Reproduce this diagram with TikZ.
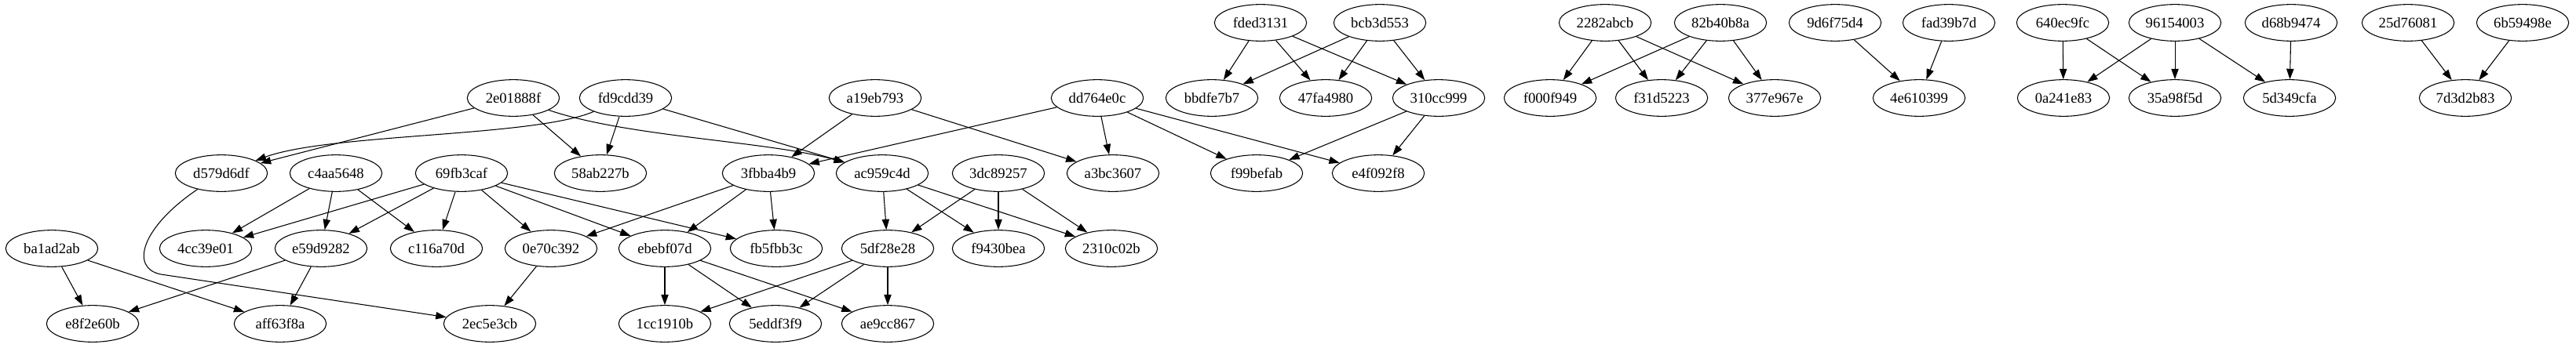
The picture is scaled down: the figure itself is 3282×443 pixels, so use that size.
\documentclass[tikz,border=0pt]{standalone}
\usepackage{fontspec}
\setmainfont{Liberation Serif}
\usetikzlibrary{arrows.meta,shapes.geometric}

\begin{document}
\begin{tikzpicture}[x=0.75pt,y=-0.75pt,{hashnode/.style={ellipse,draw=black,line width=0.8pt,minimum width=88pt,minimum height=35pt,inner sep=0pt,font=\fontsize{14pt}{16pt}\selectfont}},{link/.style={draw=black,line width=0.8pt,-{Triangle[length=10pt,width=7pt]}}}]
	%%page
	\useasboundingbox (0,0) rectangle (3282,443);
	%%rank 0
	\node[hashnode] (nfded3131) at (1606,29) {fded3131};
	\node[hashnode] (nbcb3d553) at (1758,29) {bcb3d553};
	\node[hashnode] (n2282abcb) at (2045,29) {2282abcb};
	\node[hashnode] (n82b40b8a) at (2192,29) {82b40b8a};
	\node[hashnode] (n9d6f75d4) at (2338,29) {9d6f75d4};
	\node[hashnode] (nfad39b7d) at (2483,29) {fad39b7d};
	\node[hashnode] (n640ec9fc) at (2628,29) {640ec9fc};
	\node[hashnode] (n96154003) at (2771,29) {96154003};
	\node[hashnode] (nd68b9474) at (2919,29) {d68b9474};
	\node[hashnode] (n25d76081) at (3068,29) {25d76081};
	\node[hashnode] (n6b59498e) at (3214,29) {6b59498e};
	%%rank 1
	\node[hashnode] (n2e01888f) at (654,125) {2e01888f};
	\node[hashnode] (nfd9cdd39) at (797,125) {fd9cdd39};
	\node[hashnode] (na19eb793) at (1115,125) {a19eb793};
	\node[hashnode] (ndd764e0c) at (1398,125) {dd764e0c};
	\node[hashnode] (nbbdfe7b7) at (1544,125) {bbdfe7b7};
	\node[hashnode] (n47fa4980) at (1689,125) {47fa4980};
	\node[hashnode] (n310cc999) at (1833,125) {310cc999};
	\node[hashnode] (nf000f949) at (1975,125) {f000f949};
	\node[hashnode] (nf31d5223) at (2117,125) {f31d5223};
	\node[hashnode] (n377e967e) at (2261,125) {377e967e};
	\node[hashnode] (n4e610399) at (2445,125) {4e610399};
	\node[hashnode] (n0a241e83) at (2629,125) {0a241e83};
	\node[hashnode] (n35a98f5d) at (2771,125) {35a98f5d};
	\node[hashnode] (n5d349cfa) at (2917,125) {5d349cfa};
	\node[hashnode] (n7d3d2b83) at (3141,125) {7d3d2b83};
	%%rank 2
	\node[hashnode] (nd579d6df) at (282,221) {d579d6df};
	\node[hashnode] (nc4aa5648) at (428,221) {c4aa5648};
	\node[hashnode] (n69fb3caf) at (588,221) {69fb3caf};
	\node[hashnode] (n58ab227b) at (765,221) {58ab227b};
	\node[hashnode] (n3fbba4b9) at (979,221) {3fbba4b9};
	\node[hashnode] (nac959c4d) at (1124,221) {ac959c4d};
	\node[hashnode] (n3dc89257) at (1272,221) {3dc89257};
	\node[hashnode] (na3bc3607) at (1418,221) {a3bc3607};
	\node[hashnode] (nf99befab) at (1601,221) {f99befab};
	\node[hashnode] (ne4f092f8) at (1756,221) {e4f092f8};
	%%rank 3
	\node[hashnode] (nba1ad2ab) at (66,317) {ba1ad2ab};
	\node[hashnode] (n4cc39e01) at (262,317) {4cc39e01};
	\node[hashnode] (ne59d9282) at (409,317) {e59d9282};
	\node[hashnode] (nc116a70d) at (556,317) {c116a70d};
	\node[hashnode] (n0e70c392) at (702,317) {0e70c392};
	\node[hashnode] (nebebf07d) at (847,317) {ebebf07d};
	\node[hashnode] (nfb5fbb3c) at (989,317) {fb5fbb3c};
	\node[hashnode] (n5df28e28) at (1131,317) {5df28e28};
	\node[hashnode] (nf9430bea) at (1272,317) {f9430bea};
	\node[hashnode] (n2310c02b) at (1416,317) {2310c02b};
	%%rank 4
	\node[hashnode] (ne8f2e60b) at (118,413) {e8f2e60b};
	\node[hashnode] (naff63f8a) at (357,413) {aff63f8a};
	\node[hashnode] (n2ec5e3cb) at (624,413) {2ec5e3cb};
	\node[hashnode] (n1cc1910b) at (847,413) {1cc1910b};
	\node[hashnode] (n5eddf3f9) at (988,413) {5eddf3f9};
	\node[hashnode] (nae9cc867) at (1131,413) {ae9cc867};
	%%straight edges
	\foreach \a/\b in {2e01888f/d579d6df,2e01888f/58ab227b,fd9cdd39/58ab227b,fd9cdd39/ac959c4d,
		a19eb793/3fbba4b9,a19eb793/a3bc3607,dd764e0c/3fbba4b9,dd764e0c/a3bc3607,dd764e0c/f99befab,dd764e0c/e4f092f8,
		fded3131/bbdfe7b7,fded3131/47fa4980,fded3131/310cc999,bcb3d553/bbdfe7b7,bcb3d553/47fa4980,bcb3d553/310cc999,
		310cc999/f99befab,310cc999/e4f092f8,
		2282abcb/f000f949,2282abcb/f31d5223,2282abcb/377e967e,82b40b8a/f000f949,82b40b8a/f31d5223,82b40b8a/377e967e,
		9d6f75d4/4e610399,fad39b7d/4e610399,
		640ec9fc/0a241e83,640ec9fc/35a98f5d,96154003/0a241e83,96154003/35a98f5d,96154003/5d349cfa,d68b9474/5d349cfa,
		25d76081/7d3d2b83,6b59498e/7d3d2b83,
		c4aa5648/4cc39e01,c4aa5648/e59d9282,c4aa5648/c116a70d,
		69fb3caf/4cc39e01,69fb3caf/e59d9282,69fb3caf/c116a70d,69fb3caf/0e70c392,69fb3caf/ebebf07d,69fb3caf/fb5fbb3c,
		3fbba4b9/0e70c392,3fbba4b9/ebebf07d,3fbba4b9/fb5fbb3c,
		ac959c4d/5df28e28,ac959c4d/f9430bea,ac959c4d/2310c02b,3dc89257/5df28e28,3dc89257/f9430bea,3dc89257/2310c02b,
		ba1ad2ab/e8f2e60b,ba1ad2ab/aff63f8a,e59d9282/e8f2e60b,e59d9282/aff63f8a,0e70c392/2ec5e3cb,
		ebebf07d/1cc1910b,ebebf07d/5eddf3f9,ebebf07d/ae9cc867,5df28e28/1cc1910b,5df28e28/5eddf3f9,5df28e28/ae9cc867}
		\draw[link] (n\a) -- (n\b);
	%%curved edges
	\draw[link] (nfd9cdd39) .. controls (680,175) and (420,170) .. (nd579d6df);
	\draw[link] (n2e01888f) .. controls (800,175) and (980,180) .. (nac959c4d);
	\draw[link] (nd579d6df) .. controls (180,290) and (165,342) .. (205,350) -- (n2ec5e3cb);
\end{tikzpicture}
\end{document}
